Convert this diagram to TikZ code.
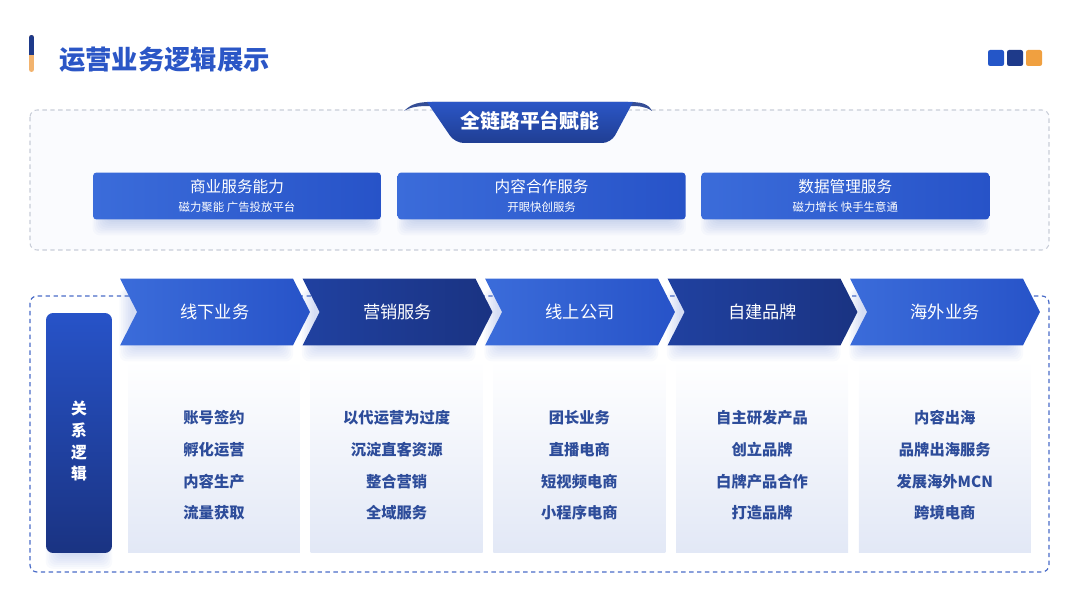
\documentclass[tikz,border=0pt]{standalone}
\usepackage{fontspec}
\setmainfont{Noto Sans CJK SC}
\usetikzlibrary{positioning,shapes.symbols}
\definecolor{titleblue}{HTML}{2B56C6}
\definecolor{navyblue}{HTML}{1E3A8A}
\definecolor{barorange}{HTML}{F2B36E}
\definecolor{sqblue}{HTML}{2456C8}
\definecolor{sqorange}{HTML}{F0A040}
\definecolor{brightL}{HTML}{3B6CDA}
\definecolor{brightR}{HTML}{2753C8}
\definecolor{darkL}{HTML}{2041A0}
\definecolor{darkR}{HTML}{1A3382}
\definecolor{itemblue}{HTML}{2D4C9A}
\definecolor{panelbot}{HTML}{E2E8F6}
\definecolor{dashblue}{HTML}{4A6CC8}
\definecolor{dashgray}{HTML}{C8CDD8}
\definecolor{topbg}{HTML}{FAFBFE}
\pgfdeclarelayer{frame}
\pgfdeclarelayer{shade}
\pgfsetlayers{frame,shade,main}

% soft shadow below a named node
\newcommand{\dropshade}[1]{%
  \foreach \r in {1,...,8}{
    \fill[titleblue, opacity=0.028, rounded corners=4pt]
      ([xshift={8pt-\r*1pt}, yshift={-\r*1.1pt}]#1.south west) rectangle ([xshift={-8pt+\r*1pt}, yshift=-6pt]#1.north east);}}

\begin{document}
\begin{tikzpicture}[x=0.02cm, y=-0.02cm,
    servicebox/.style={rectangle, rounded corners=2pt, minimum width=5.76cm, minimum height=0.94cm,
        left color=brightL, right color=brightR, text=white, align=center, inner sep=0pt},
    chev/.style={signal, signal from=west, signal to=east, signal pointer angle=126,
        minimum width=3.8cm, minimum height=1.34cm, inner sep=0pt, text=white,
        font=\fontsize{9.8}{12}\selectfont},
    brightchev/.style={left color=brightL, right color=brightR},
    darkchev/.style={left color=darkL, right color=darkR},
    panel/.style={rectangle, minimum width=3.44cm, minimum height=3.86cm, inner sep=0pt,
        top color=white, bottom color=panelbot},
    itemtext/.style={text=itemblue, align=center, font=\bfseries\fontsize{8.7}{18}\selectfont}]
\useasboundingbox (0,0) rectangle (1080,608);

% Title bar
\begin{scope}
\clip[rounded corners=1.4pt] (29,35) rectangle (34,72);
\fill[barorange] (29,35) rectangle (34,72);
\fill[navyblue] (29,35) rectangle (34,55);
\end{scope}
\node[anchor=west, text=titleblue, font=\bfseries\fontsize{15}{18}\selectfont] (title) at (53,60) {运营业务逻辑展示};

% Corner squares
\foreach \c [count=\i] in {sqblue,navyblue,sqorange}
    \fill[\c, rounded corners=1.2pt] ({988+19*(\i-1)},50) rectangle +(16,16);

% Platform frame
\begin{pgfonlayer}{frame}
\draw[dashgray, line width=0.6pt, dash pattern=on 2.5pt off 2pt, rounded corners=4pt, fill=topbg] (30,110) rectangle (1049,250);
\end{pgfonlayer}

% Banner
\fill[navyblue!90] (404,111) .. controls (412,103) and (420,102) .. (432,102) -- (628,102)
    .. controls (640,102) and (648,103) .. (652,111) .. controls (645,106) and (638,106) .. (628,106)
    -- (432,106) .. controls (422,106) and (412,106) .. (404,111) -- cycle;
\shade[top color=titleblue, bottom color=navyblue!85!titleblue] (427,102) -- (633,102)
    [rounded corners=5pt] -- (611,143) -- (455,143) [sharp corners] -- cycle;
\node[text=white, font=\bfseries\fontsize{11.3}{14}\selectfont] (banner) at (530,121) {全链路平台赋能};

% Services
\node[servicebox] (business) at (237,196) {\fontsize{8.9}{12}\selectfont 商业服务能力\\[-1pt]{\fontsize{6.5}{8}\selectfont 磁力聚能 广告投放平台}};
\node[servicebox, right=0.32cm of business] (content) {\fontsize{8.9}{12}\selectfont 内容合作服务\\[-1pt]{\fontsize{6.5}{8}\selectfont 开眼快创服务}};
\node[servicebox, right=0.3cm of content] (data) {\fontsize{8.9}{12}\selectfont 数据管理服务\\[-1pt]{\fontsize{6.5}{8}\selectfont 磁力增长 快手生意通}};

% Relation frame
\begin{pgfonlayer}{frame}
\draw[dashblue, line width=0.7pt, dash pattern=on 2.5pt off 2pt, rounded corners=4pt] (30,296) rectangle (1049,572);
\end{pgfonlayer}
\node[rectangle, rounded corners=4pt, minimum width=1.32cm, minimum height=4.8cm,
    top color=brightR, bottom color=darkR] (relbox) at (79,433) {};
\node[text=white, align=center, font=\bfseries\fontsize{9}{12.5}\selectfont] (reltext) at (79,441) {关\\系\\逻\\辑};

% Business lines
\foreach \name/\items [count=\i] in {
    offline/{账号签约\\孵化运营\\内容生产\\流量获取},
    market/{以代运营为过度\\沉淀直客资源\\整合营销\\全域服务},
    online/{团长业务\\直播电商\\短视频电商\\小程序电商},
    brand/{自主研发产品\\创立品牌\\白牌产品合作\\打造品牌},
    abroad/{内容出海\\品牌出海服务\\发展海外MCN\\跨境电商}} {
    \begin{pgfonlayer}{frame}
    \node[panel] (panel\name) at ({214+182.7*(\i-1)},456.5) {};
    \end{pgfonlayer}
    \node[itemtext] (items\name) at ({214+182.7*(\i-1)},465.5) {\items};
}
\foreach \name/\lab/\col [count=\i] in {
    offline/线下业务/brightchev, market/营销服务/darkchev, online/线上公司/brightchev,
    brand/自建品牌/darkchev, abroad/海外业务/brightchev}
    \node[chev, \col] (chev\name) at ({215+182.5*(\i-1)},312) {\lab};

% Shadows
\begin{pgfonlayer}{shade}
\foreach \n in {business,content,data,relbox,chevoffline,chevmarket,chevonline,chevbrand,chevabroad}{
    \dropshade{\n}}
\end{pgfonlayer}
\end{tikzpicture}
\end{document}
